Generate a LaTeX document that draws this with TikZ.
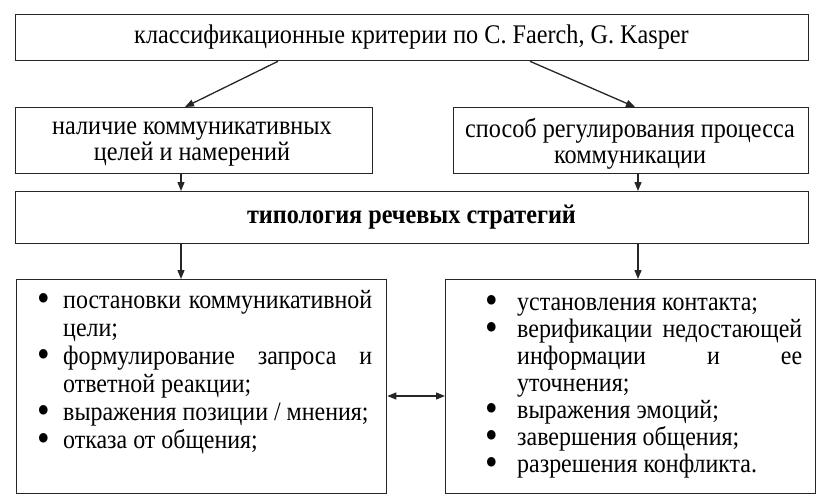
\documentclass[tikz,border=0pt]{standalone}
\usepackage{fontspec}
\setmainfont{Liberation Serif}[FakeStretch=0.9]
\usetikzlibrary{arrows.meta}
\tikzset{
  box/.style={draw=black!85, line width=1.3pt, rectangle, inner sep=0pt, anchor=north west},
  txt/.style={inner sep=0pt, align=center, font=\fontsize{26.9}{26.5}\selectfont},
  arr/.style={draw=black!85, line width=1.3pt, -{Triangle[length=9pt,width=7pt]}},
  darr/.style={draw=black!85, line width=1.3pt, {Triangle[length=9pt,width=7pt]}-{Triangle[length=9pt,width=7pt]}},
  list/.style={inner sep=0pt, align=left, anchor=base west, font=\fontsize{26.6}{28}\selectfont}
}
\newcommand{\bul}[1]{\llap{\makebox[#1][c]{\raisebox{-3.5pt}{\scalebox{1.5}{\textbullet}}}}}
\begin{document}
\begin{tikzpicture}[x=1pt,y=-1pt]
\useasboundingbox (0,0) rectangle (821,498);
\node[box, minimum width=793pt, minimum height=46pt] (top) at (15,14) {};
\node[txt] (toptxt) at (411.5,37) {классификационные критерии по C. Faerch, G. Kasper};
\node[box, minimum width=357pt, minimum height=66pt] (lm) at (15,107) {};
\node[txt] (lmtxt) at (192,144) {наличие коммуникативных\\целей и намерений};
\node[box, minimum width=355pt, minimum height=66pt] (rm) at (453,107) {};
\node[txt] (rmtxt) at (630,144) {способ регулирования процесса\\коммуникации};
\node[box, minimum width=793pt, minimum height=52pt] (typ) at (15,191) {};
\node[txt, font=\fontsize{26.9}{27}\selectfont\bfseries] (typtxt) at (411.5,217) {типология речевых стратегий};
\node[box, minimum width=370pt, minimum height=214pt] (bl) at (16,279) {};
\node[box, minimum width=370pt, minimum height=214pt] (br) at (445,279) {};
\node[list] (bltxt) at (63,448) {\bul{38pt}\makebox[309pt][s]{постановки коммуникативной}\\
цели;\\
\bul{38pt}\makebox[309pt][s]{формулирование запроса и}\\
ответной реакции;\\
\bul{38pt}выражения позиции / мнения;\\
\bul{38pt}отказа от общения;};
\node[list, font=\fontsize{26.6}{27}\selectfont] (brtxt) at (517,472) {\bul{50pt}установления контакта;\\
\bul{50pt}\makebox[285pt][s]{верификации недостающей}\\
\makebox[285pt][s]{информации и ее}\\
уточнения;\\
\bul{50pt}выражения эмоций;\\
\bul{50pt}завершения общения;\\
\bul{50pt}разрешения конфликта.};
\draw[arr] (top.south -| 278,0) -- (lm.north -| 185,0);
\draw[arr] (top.south -| 530,0) -- (rm.north -| 635,0);
\draw[arr] (lm.south -| 181,0) -- (typ.north -| 181,0);
\draw[arr] (rm.south -| 638,0) -- (typ.north -| 638,0);
\draw[arr] (typ.south -| 181,0) -- (bl.north -| 181,0);
\draw[arr] (typ.south -| 638,0) -- (br.north -| 638,0);
\draw[darr] (bl.east |- 0,396) -- (br.west |- 0,396);
\end{tikzpicture}
\end{document}
